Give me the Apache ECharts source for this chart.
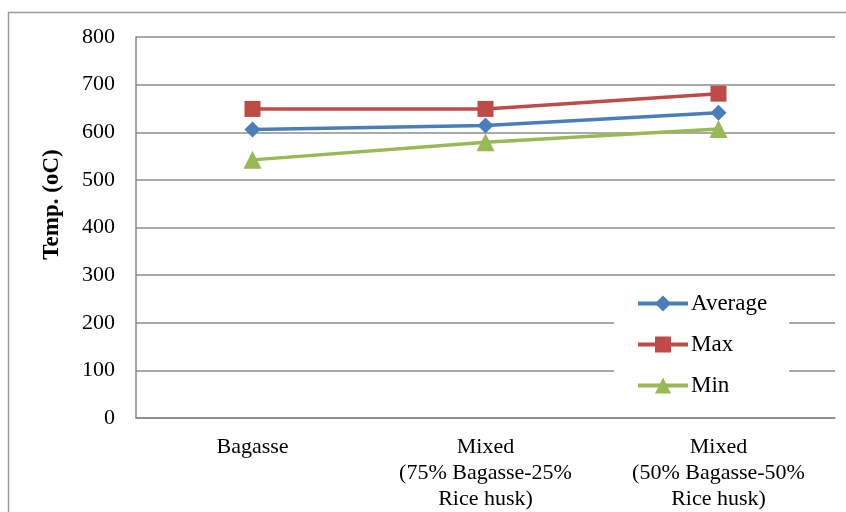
<!DOCTYPE html>
<html>
<head>
<meta charset="utf-8">
<script src="https://cdn.jsdelivr.net/npm/echarts@6/dist/echarts.min.js"></script>
<style>
  html, body { margin: 0; padding: 0; background: #fff; }
  #chart { width: 846px; height: 512px; }
</style>
</head>
<body>
<div id="chart"></div>
<script>
// categories and series values
var categories = ['Bagasse', 'Mixed\n(75% Bagasse-25%\nRice husk)', 'Mixed\n(50% Bagasse-50%\nRice husk)'];
var averageTemp = [606, 614, 641];
var maxTemp = [649, 649, 681];
var minTemp = [542, 579, 607];
var yTicks = [0, 100, 200, 300, 400, 500, 600, 700, 800];

var font = '"Liberation Serif", "Times New Roman", serif';

function lineSeries(name, data, color, symbol, size) {
    return {
        name: name,
        type: 'line',
        data: data,
        symbol: symbol,
        symbolSize: size,
        showAllSymbol: true,
        lineStyle: { color: color, width: 3.5 },
        itemStyle: { color: color },
        z: 3
    };
}

var chart = echarts.init(document.getElementById('chart'), null, { renderer: 'canvas' });
chart.setOption({
    animation: false,
    backgroundColor: '#fff',
    textStyle: { fontFamily: font },
    // outer chart-area border (only top and left edges are inside the picture)
    graphic: [{
        type: 'rect',
        shape: { x: 8.5, y: 12.5, width: 900, height: 600 },
        style: { fill: null, stroke: '#9a9a9a', lineWidth: 1.5 },
        silent: true
    }],
    grid: {
        left: 136,
        right: 11,
        top: 37,
        bottom: 94
    },
    legend: {
        orient: 'vertical',
        left: 614,
        top: 286,
        padding: [6, 22, 6, 22],
        backgroundColor: '#fff',
        itemWidth: 50,
        itemHeight: 20,
        itemGap: 18,
        data: ['Average', 'Max', 'Min'],
        lineStyle: { width: 4 },
        textStyle: { fontFamily: font, fontSize: 23, color: '#000', padding: [0, 0, 0, -2] },
        z: 10
    },
    xAxis: {
        type: 'category',
        data: categories,
        boundaryGap: true,
        axisLine: { lineStyle: { color: '#868686', width: 1.5 } },
        axisTick: { show: false },
        axisLabel: {
            interval: 0,
            margin: 16,
            color: '#000',
            fontFamily: font,
            fontSize: 22,
            lineHeight: 26
        }
    },
    yAxis: {
        type: 'value',
        min: yTicks[0],
        max: yTicks[yTicks.length - 1],
        interval: 100,
        name: 'Temp. (oC)',
        nameLocation: 'middle',
        nameGap: 72,
        nameTextStyle: {
            fontFamily: font, fontSize: 23, fontWeight: 'bold', color: '#000',
            padding: [0, 0, 0, 46]
        },
        axisLine: { show: true, lineStyle: { color: '#868686', width: 1.5 } },
        axisTick: { show: false },
        splitLine: { lineStyle: { color: '#8c8c8c', width: 1.5 } },
        axisLabel: {
            margin: 21,
            color: '#000',
            fontFamily: font,
            fontSize: 22
        }
    },
    series: [
        lineSeries('Average', averageTemp, '#4a7ebb', 'diamond', 16),
        lineSeries('Max', maxTemp, '#be4b48', 'rect', 16),
        lineSeries('Min', minTemp, '#98b954', 'triangle', 18)
    ]
});
</script>
</body>
</html>
